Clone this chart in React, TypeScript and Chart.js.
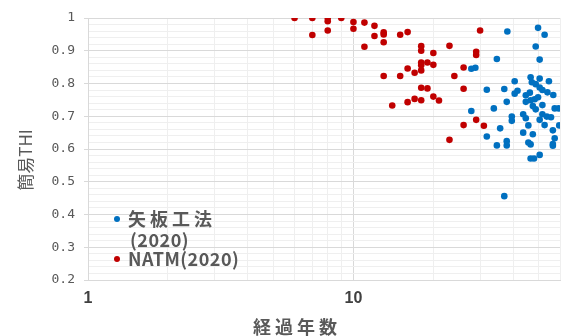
import React, { useEffect, useRef } from "react";
import { Chart, registerables } from "chart.js";

Chart.register(...registerables);

// ---- data ----
const seriesLabels = ["矢板工法(2020)", "NATM(2020)"];
const seriesColors = ["#0070C0", "#C00000"];

const yabanX = [
  38, 49.6, 52.5, 48.6, 50.3, 34.7, 27.8, 28.8, 46.5, 50.3, 54.5, 40.5, 47, 48.6, 50.3, 51.5,
  53.8, 56.6, 31.8, 37, 41.5, 40.5, 44.6, 46.2, 49.6, 48.2, 46.5, 44.6, 37.8, 27.8, 33.8, 47.4,
  48.6, 51.5, 57.3, 59.3, 39.5, 39.5, 43.6, 44.6, 51.5, 53.5, 55.5, 50.3, 45.6, 52.5, 59.6, 35.7,
  43.6, 47.4, 56.4, 31.8, 57.3, 37.8, 37.8, 34.7, 45.6, 46.5, 56.4, 56.4, 46.5, 47.9, 50.3, 37,
];
const yabanY = [
  0.959, 0.97, 0.949, 0.913, 0.873, 0.875, 0.845, 0.848, 0.819, 0.815, 0.807, 0.807, 0.804, 0.798, 0.788, 0.78,
  0.773, 0.765, 0.781, 0.783, 0.778, 0.769, 0.764, 0.772, 0.758, 0.752, 0.749, 0.744, 0.744, 0.716, 0.724, 0.731,
  0.721, 0.734, 0.724, 0.724, 0.699, 0.686, 0.706, 0.694, 0.706, 0.699, 0.697, 0.689, 0.672, 0.673, 0.672, 0.663,
  0.65, 0.645, 0.657, 0.638, 0.633, 0.624, 0.611, 0.611, 0.62, 0.614, 0.615, 0.61, 0.571, 0.571, 0.582, 0.456,
];

const natmX = [
  6, 7, 8, 8, 9, 10, 10, 11, 12, 7, 8, 12, 13, 13, 13, 11, 15, 16, 18, 18, 20, 23, 30, 29, 29,
  18, 18, 19, 20, 16, 17, 18, 13, 15, 26, 24, 18, 19, 26, 20, 21, 17, 18, 16, 14, 26, 29, 31, 23,
];
const natmY = [
  1.0, 1.0, 1.0, 0.99, 1.0, 0.988, 0.967, 0.986, 0.976, 0.948, 0.962, 0.945, 0.956, 0.95, 0.926, 0.912,
  0.949, 0.957, 0.914, 0.9, 0.893, 0.915, 0.962, 0.897, 0.887, 0.864, 0.856, 0.864, 0.857, 0.846, 0.833,
  0.84, 0.823, 0.823, 0.849, 0.823, 0.787, 0.785, 0.784, 0.76, 0.748, 0.753, 0.749, 0.743, 0.733, 0.673,
  0.689, 0.671, 0.628,
];

const xTickValues = [1, 2, 3, 4, 5, 6, 7, 8, 9, 10, 20, 30, 40, 50, 60];
const xLabelledTicks = [1, 10];
const xMin = 1;
const xMax = 60;
const yMin = 0.2;
const yMax = 1;
const yMinorStep = 0.02;
const xTitle = "経過年数";
const yTitle = "簡易THI";

const toPoints = (xs: number[], ys: number[]) => xs.map((x, i) => ({ x, y: ys[i] }));

const isMajorY = (v: number) => Math.abs(Math.round(v * 10) - v * 10) < 1e-6;

const overlayPlugin = {
  id: "overlay",
  afterDraw(chart: any) {
    const { ctx, chartArea } = chart;
    ctx.save();
    // legend inside plot area
    let y = chartArea.bottom - 61;
    const cjk = /[\u3000-\u9fff]/;
    chart.data.datasets.forEach((ds: any) => {
      ctx.font = 'bold 18px "Noto Sans CJK JP"';
      let lines: string[] = [ds.label];
      (ctx as any).letterSpacing = "0px";
      if (ctx.measureText(ds.label).width > 115 && ds.label.indexOf("(") > 0) {
        const k = ds.label.indexOf("(");
        lines = [ds.label.slice(0, k), ds.label.slice(k)];
      }
      ctx.fillStyle = ds.backgroundColor;
      ctx.beginPath();
      ctx.arc(chartArea.left + 29, y, 3, 0, Math.PI * 2);
      ctx.fill();
      lines.forEach((ln, i) => {
        (ctx as any).letterSpacing = cjk.test(ln) ? "4px" : "0.5px";
        ctx.fillStyle = "#595959";
        ctx.textBaseline = "middle";
        ctx.textAlign = "left";
        ctx.fillText(ln, chartArea.left + 40 + (i > 0 ? 2 : 0), y + i * 21);
      });
      y += lines.length * 20;
    });
    // x title
    ctx.font = 'bold 18px "Noto Sans CJK JP"';
    (ctx as any).letterSpacing = "4px";
    ctx.fillStyle = "#595959";
    ctx.textAlign = "left";
    ctx.textBaseline = "middle";
    ctx.fillText(xTitle, chartArea.left + 165, chartArea.bottom + 47);
    // y title
    (ctx as any).letterSpacing = "0px";
    ctx.translate(26, chartArea.top + 142);
    ctx.rotate(-Math.PI / 2);
    ctx.font = '17px "Noto Sans CJK JP"';
    ctx.textAlign = "center";
    ctx.fillText(yTitle, 0, 0);
    ctx.restore();
  },
};

export default function App() {
  const ref = useRef<HTMLCanvasElement | null>(null);
  useEffect(() => {
    if (!ref.current) return;
    const chart = new Chart(ref.current, {
      type: "scatter",
      data: {
        datasets: [
          {
            label: seriesLabels[0],
            data: toPoints(yabanX, yabanY),
            backgroundColor: seriesColors[0],
            borderColor: seriesColors[0],
            pointRadius: 3.3,
            borderWidth: 0,
          },
          {
            label: seriesLabels[1],
            data: toPoints(natmX, natmY),
            backgroundColor: seriesColors[1],
            borderColor: seriesColors[1],
            pointRadius: 3.3,
            borderWidth: 0,
          },
        ],
      },
      options: {
        responsive: false,
        animation: false,
        layout: { padding: { top: 18, right: 5, left: 0, bottom: 0 } },
        plugins: {
          legend: { display: false },
          tooltip: { enabled: false },
        },
        scales: {
          x: {
            type: "logarithmic",
            min: xMin,
            max: xMax,
            afterBuildTicks: (scale: any) => {
              scale.ticks = xTickValues.map((v) => ({ value: v }));
            },
            afterFit: (scale: any) => {
              scale.height = 56;
            },
            ticks: {
              autoSkip: false,
              maxRotation: 0,
              padding: 9,
              color: "#404040",
              font: { family: '"Liberation Sans", Arial', size: 16, weight: "bold" },
              callback: (v: any) => (xLabelledTicks.includes(Number(v)) ? String(v) : ""),
            },
            grid: {
              drawTicks: false,
              color: (c: any) => (c.tick && (c.tick.value === 10 || c.tick.value === 1) ? "#d9d9d9" : "#efefef"),
            },
            border: { color: "#d9d9d9" },
          },
          y: {
            type: "linear",
            min: yMin,
            max: yMax,
            afterFit: (scale: any) => {
              scale.width = 88;
            },
            ticks: {
              stepSize: yMinorStep,
              autoSkip: false,
              padding: 9,
              color: "#595959",
              font: { family: '"DejaVu Sans Mono"', size: 13 },
              callback: (v: any) => (isMajorY(Number(v)) ? String(Math.round(Number(v) * 10) / 10) : ""),
            },
            grid: {
              tickLength: 4,
              color: (c: any) => (c.tick && isMajorY(c.tick.value) ? "#d9d9d9" : "#efefef"),
              tickColor: (c: any) => (c.tick && isMajorY(c.tick.value) ? "#d9d9d9" : "rgba(0,0,0,0)"),
            },
            border: { color: "#d9d9d9" },
          },
        },
      },
      plugins: [overlayPlugin],
    } as any);
    return () => chart.destroy();
  }, []);
  return (
    <div style={{ position: "fixed", left: 0, top: 0, width: 569, height: 336, background: "#fff" }}>
      <canvas ref={ref} width={569} height={336} />
    </div>
  );
}
